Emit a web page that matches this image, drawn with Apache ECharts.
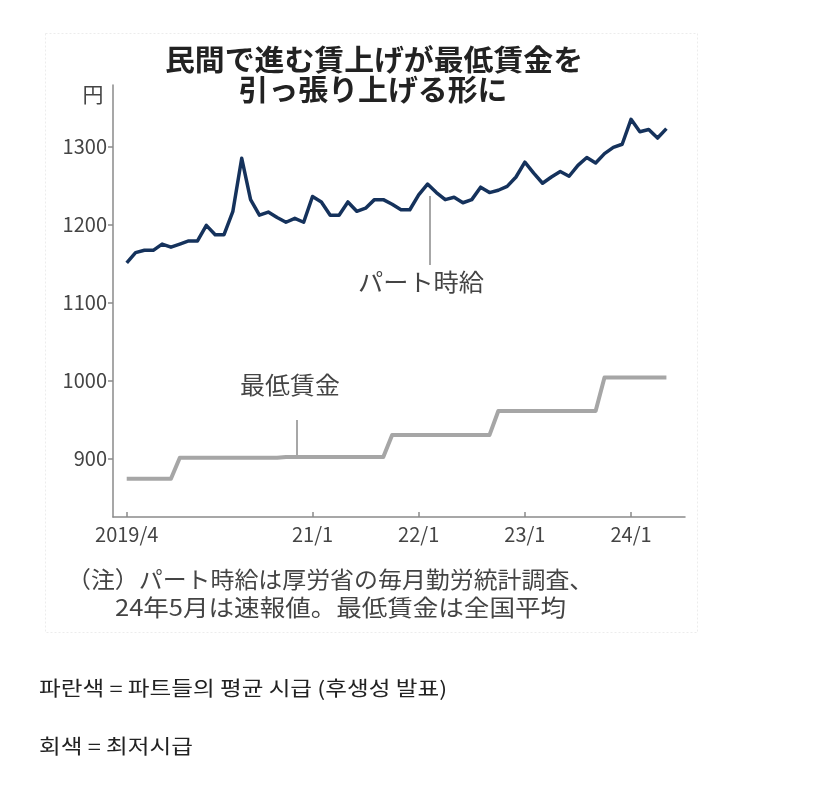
<!DOCTYPE html>
<html>
<head>
<meta charset="utf-8">
<script src="https://cdn.jsdelivr.net/npm/echarts@6/dist/echarts.min.js"></script>
<style>
html,body{margin:0;padding:0;background:#fff;}
#chart{width:827px;height:785px;}
</style>
</head>
<body>
<div id="chart"></div>
<script>
// Monthly data, index 0 = 2019/4 ... index 61 = 2024/5
const partWage = [
  1151, 1164, 1167, 1167, 1175, 1171, 1175, 1179, 1179, 1199, 1187, 1187, 1217,
  1285, 1232, 1212, 1216, 1209, 1203, 1208, 1203, 1236, 1229, 1212, 1212,
  1229, 1217, 1221, 1232, 1232, 1226, 1219, 1219, 1238, 1252, 1241, 1232, 1235,
  1228, 1232, 1248, 1241, 1244, 1249, 1261, 1280, 1266, 1253, 1261, 1268,
  1262, 1276, 1286, 1279, 1291, 1299, 1303, 1335, 1319, 1322, 1311, 1323
];
const minWage = [
  874, 874, 874, 874, 874, 874,
  901, 901, 901, 901, 901, 901, 901, 901, 901, 901, 901, 901,
  902, 902, 902, 902, 902, 902, 902, 902, 902, 902, 902, 902,
  930, 930, 930, 930, 930, 930, 930, 930, 930, 930, 930, 930,
  961, 961, 961, 961, 961, 961, 961, 961, 961, 961, 961, 961,
  1004, 1004, 1004, 1004, 1004, 1004, 1004, 1004
];
const xTickIndex = [0, 21, 33, 45, 57];
const xTickLabels = ['2019/4', '21/1', '22/1', '23/1', '24/1'];
const yTicks = [900, 1000, 1100, 1200, 1300];

const titleLines = ['民間で進む賃上げが最低賃金を', '引っ張り上げる形に'];
const noteLines = ['（注）パート時給は厚労省の毎月勤労統計調査、', '24年5月は速報値。最低賃金は全国平均'];
const koreanLines = ['파란색 = 파트들의 평균 시급 (후생성 발표)', '회색 = 최저시급'];

const JP = '"Noto Sans CJK JP", "Noto Sans", sans-serif';
const KR = '"Noto Sans CJK KR", sans-serif';

const chart = echarts.init(document.getElementById('chart'), null, {renderer: 'canvas'});

const option = {
  backgroundColor: '#fff',
  animation: false,
  grid: {left: 113, right: 142, top: 85, bottom: 268},
  xAxis: {
    type: 'value',
    min: -1.55, max: 63.1,
    axisLine: {show: true, onZero: false, lineStyle: {color: '#8a8a8a', width: 1.5}},
    axisTick: {show: true, inside: true, length: 5, customValues: xTickIndex, lineStyle: {color: '#8a8a8a', width: 1.5}},
    axisLabel: {
      customValues: xTickIndex,
      formatter: function (v) { const k = xTickIndex.indexOf(v); return k >= 0 ? xTickLabels[k] : ''; },
      color: '#444', fontFamily: JP, fontSize: 20, margin: 7
    },
    splitLine: {show: false}
  },
  yAxis: {
    type: 'value',
    min: 825, max: 1379,
    axisLine: {show: true, onZero: false, lineStyle: {color: '#8a8a8a', width: 1.5}},
    axisTick: {show: true, inside: false, length: 5, customValues: yTicks, lineStyle: {color: '#8a8a8a', width: 1.5}},
    axisLabel: {customValues: yTicks, formatter: function (v) { return String(v); }, color: '#444', fontFamily: JP, fontSize: 20, margin: 6},
    splitLine: {show: false}
  },
  series: [
    {
      type: 'line', name: '最低賃金', symbol: 'none',
      data: minWage.map((v, i) => [i, v]),
      lineStyle: {color: '#a6a6a6', width: 4, join: 'round'},
      z: 2
    },
    {
      type: 'line', name: 'パート時給', symbol: 'none',
      data: partWage.map((v, i) => [i, v]),
      lineStyle: {color: '#15325c', width: 3.5, join: 'round'},
      z: 3
    }
  ],
  graphic: [
    {type: 'rect', shape: {x: 45.5, y: 33.5, width: 652, height: 599}, style: {fill: 'none', stroke: '#ececec', lineWidth: 1, lineDash: [2, 2]}, silent: true},
    {type: 'text', x: 374, y: 60, scaleX: 1.03, style: {text: titleLines[0], font: 'bold 29px ' + JP, fill: '#222', align: 'center', verticalAlign: 'middle'}},
    {type: 'text', x: 373, y: 90, scaleX: 1.03, style: {text: titleLines[1], font: 'bold 29px ' + JP, fill: '#222', align: 'center', verticalAlign: 'middle'}},
    {type: 'text', x: 93, y: 94, style: {text: '円', font: '21px ' + JP, fill: '#444', align: 'center', verticalAlign: 'middle'}},
    {type: 'line', shape: {x1: 430, y1: 196, x2: 430, y2: 265}, style: {stroke: '#8a8a8a', lineWidth: 1.5}},
    {type: 'text', x: 421, y: 282, scaleX: 1.05, style: {text: 'パート時給', font: '24px ' + JP, fill: '#444', align: 'center', verticalAlign: 'middle'}},
    {type: 'line', shape: {x1: 297, y1: 420, x2: 297, y2: 458}, style: {stroke: '#8a8a8a', lineWidth: 1.5}},
    {type: 'text', x: 290, y: 385, scaleX: 1.04, style: {text: '最低賃金', font: '24px ' + JP, fill: '#444', align: 'center', verticalAlign: 'middle'}},
    {type: 'text', x: 67, y: 579, scaleX: 1.04, style: {text: noteLines[0], font: '23px ' + JP, fill: '#444', align: 'left', verticalAlign: 'middle'}},
    {type: 'text', x: 115, y: 607, scaleX: 1.11, style: {text: noteLines[1], font: '23px ' + JP, fill: '#444', align: 'left', verticalAlign: 'middle'}},
    {type: 'text', x: 39, y: 688, scaleX: 1.18, style: {text: koreanLines[0], font: '20px ' + KR, fill: '#222', align: 'left', verticalAlign: 'middle'}},
    {type: 'text', x: 39, y: 746, scaleX: 1.18, style: {text: koreanLines[1], font: '20px ' + KR, fill: '#222', align: 'left', verticalAlign: 'middle'}}
  ]
};
chart.setOption(option);
</script>
</body>
</html>
